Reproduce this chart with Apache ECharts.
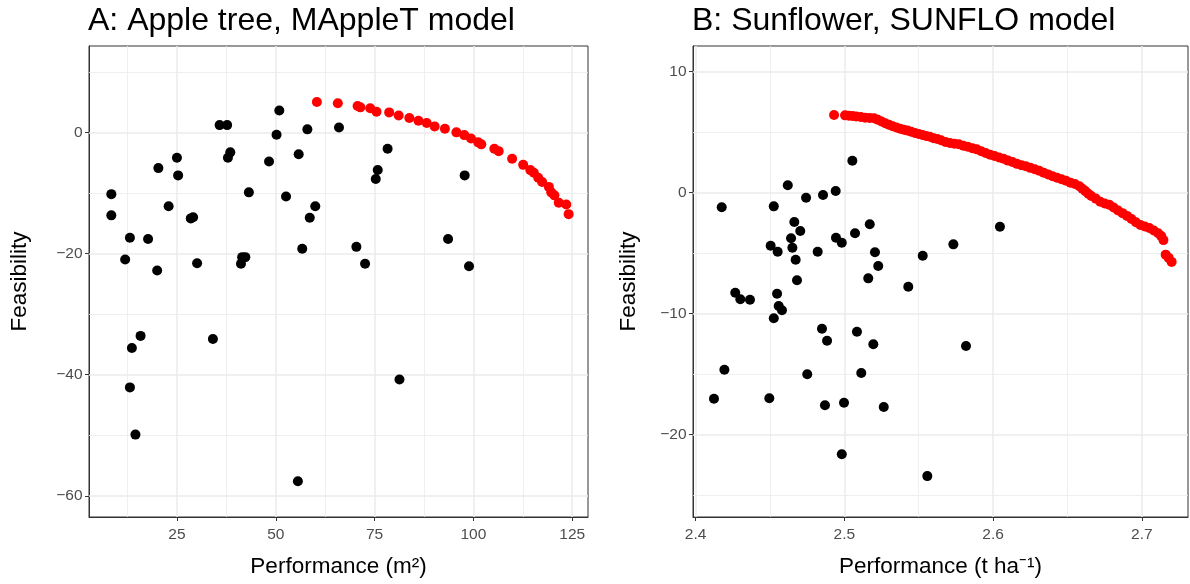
<!DOCTYPE html>
<html>
<head>
<meta charset="utf-8">
<script src="https://cdn.jsdelivr.net/npm/echarts@6/dist/echarts.min.js"></script>
<style>
html,body{margin:0;padding:0;background:#fff;}
#chart{width:1190px;height:584px;}
</style>
</head>
<body>
<div id="chart"></div>
<script>
// ---- Panel A: Apple tree, MAppleT model ----
const appleBlackX = [50.9,66.0,58.0,50.2,35.8,37.7,38.5,37.9,25.0,20.3,25.3,55.8,48.3,8.4,43.2,52.6,60.0,58.6,22.9,8.4,29.1,28.5,13.1,17.7,56.7,11.9,20.0,30.1,41.2,41.5,42.3,78.3,75.8,75.3,97.8,70.4,72.6,93.6,98.9,15.8,13.6,34.1,13.1,14.5,55.6,81.3];
const appleBlackY = [3.6,0.8,0.5,-0.4,1.2,1.2,-3.3,-4.2,-4.2,-5.9,-7.1,-3.6,-4.8,-10.2,-9.9,-10.6,-12.2,-14.1,-12.2,-13.7,-14.0,-14.2,-17.4,-17.6,-19.2,-21.0,-22.8,-21.6,-21.7,-20.6,-20.6,-2.7,-6.2,-7.7,-7.1,-18.9,-21.7,-17.6,-22.1,-33.6,-35.6,-34.1,-42.1,-49.9,-57.6,-40.8];
const appleRedX = [60.4,65.7,70.7,71.4,73.9,75.5,78.7,81.1,83.8,86.1,88.2,90.2,92.8,95.7,97.7,99.4,101.2,102.0,105.3,106.4,109.8,112.6,114.4,115.3,116.4,117.4,119.1,119.7,120.5,121.6,123.5,124.1];
const appleRedY = [5.0,4.8,4.35,4.13,3.97,3.4,3.3,2.8,2.36,1.92,1.54,0.99,0.6,0.0,-0.45,-1.0,-1.65,-1.98,-2.7,-3.1,-4.36,-5.36,-6.23,-6.68,-7.5,-8.2,-9.0,-9.9,-10.4,-11.6,-11.9,-13.5];
const appleXMajor = [25,50,75,100,125];
const appleXMinor = [12.5,37.5,62.5,87.5,112.5];
const appleYMajor = [0,-20,-40,-60];
const appleYMinor = [10,-10,-30,-50];

// ---- Panel B: Sunflower, SUNFLO model ----
const sunBlackX = [2.5054,2.4620,2.4176,2.4526,2.4743,2.4857,2.4942,2.4664,2.4704,2.4642,2.4651,2.4505,2.4552,2.4673,2.4821,2.4944,2.4983,2.5072,2.5171,2.5206,2.5228,2.5161,2.5430,2.5527,2.6046,2.5733,2.4682,2.4267,2.4301,2.4366,2.4548,2.4559,2.4581,2.4526,2.4850,2.4884,2.5085,2.5195,2.4194,2.4751,2.5114,2.4124,2.4496,2.4870,2.4998,2.5265,2.4983,2.5558,2.5818];
const sunBlackY = [2.61,0.58,-1.24,-1.16,-0.45,-0.22,0.11,-2.45,-3.2,-3.8,-4.58,-4.41,-4.91,-5.57,-4.91,-3.75,-4.17,-3.39,-2.64,-4.96,-6.09,-7.11,-7.8,-5.24,-2.84,-4.3,-7.27,-8.3,-8.84,-8.88,-8.38,-9.4,-9.75,-10.41,-11.27,-12.26,-11.52,-12.56,-14.66,-15.04,-14.93,-17.06,-17.02,-17.6,-17.39,-17.74,-21.65,-23.45,-12.7];
const sunRedX = [2.4931,2.5005,2.5030,2.5055,2.5080,2.5110,2.5140,2.5170,2.5200,2.5225,2.5250,2.5275,2.5300,2.5325,2.5350,2.5375,2.5400,2.5425,2.5450,2.5475,2.5500,2.5525,2.5550,2.5575,2.5600,2.5625,2.5650,2.5680,2.5710,2.5740,2.5770,2.5800,2.5830,2.5860,2.5890,2.5920,2.5950,2.5980,2.6010,2.6040,2.6070,2.6100,2.6130,2.6160,2.6190,2.6220,2.6250,2.6280,2.6310,2.6340,2.6370,2.6400,2.6430,2.6460,2.6490,2.6520,2.6550,2.6580,2.6600,2.6620,2.6640,2.6660,2.6690,2.6720,2.6750,2.6780,2.6810,2.6840,2.6870,2.6900,2.6930,2.6960,2.6990,2.7020,2.7050,2.7080,2.7110,2.7130,2.7145,2.7160,2.7180,2.7200];
const sunRedY = [6.39,6.36,6.33,6.30,6.27,6.22,6.16,6.15,6.12,6.00,5.85,5.70,5.58,5.46,5.36,5.25,5.17,5.10,5.01,4.90,4.82,4.73,4.66,4.59,4.47,4.40,4.30,4.15,4.08,4.02,3.97,3.85,3.76,3.65,3.55,3.40,3.25,3.10,3.00,2.88,2.78,2.62,2.50,2.35,2.23,2.15,2.02,1.90,1.78,1.62,1.48,1.32,1.20,1.08,0.95,0.80,0.68,0.50,0.30,0.10,-0.12,-0.30,-0.52,-0.78,-0.92,-1.02,-1.25,-1.50,-1.72,-1.95,-2.20,-2.48,-2.70,-2.82,-2.95,-3.15,-3.38,-3.62,-3.95,-5.15,-5.42,-5.75];
const sunXMajor = [2.4,2.5,2.6,2.7];
const sunXMinor = [2.45,2.55,2.65];
const sunYMajor = [10,0,-10,-20];
const sunYMinor = [5,-5,-15,-25];

const titles = ['A: Apple tree, MAppleT model','B: Sunflower, SUNFLO model'];
const xNames = ['Performance (m\u00B2)','Performance (t ha\u207B\u00B9)'];
const yName = 'Feasibility';

const FONT = 'Liberation Sans, Arial, Helvetica, sans-serif';
const zip = (xs, ys) => xs.map((x, i) => [x, ys[i]]);
const minus = v => String(v).replace('-', '\u2212');

function xAxisOf(idx, min, max, major, fmt) {
  return {
    type: 'value', gridIndex: idx, min: min, max: max,
    name: xNames[idx], nameLocation: 'middle', nameGap: 38,
    nameTextStyle: {fontFamily: FONT, fontSize: 22.5, color: '#000'},
    axisLine: {show: true, onZero: false, lineStyle: {color: '#333', width: 1}},
    axisTick: {show: true, inside: false, length: 4, lineStyle: {color: '#333', width: 1}, customValues: major},
    axisLabel: {show: true, margin: 10, fontFamily: FONT, fontSize: 15.5, color: '#4d4d4d', customValues: major, formatter: fmt, showMinLabel: true, showMaxLabel: true},
    splitLine: {show: false}, minorSplitLine: {show: false}
  };
}
function yAxisOf(idx, min, max, major, gap) {
  return {
    type: 'value', gridIndex: idx, min: min, max: max,
    name: yName, nameLocation: 'middle', nameGap: gap,
    nameTextStyle: {fontFamily: FONT, fontSize: 22.5, color: '#000'},
    axisLine: {show: true, onZero: false, lineStyle: {color: '#333', width: 1}},
    axisTick: {show: true, inside: false, length: 4, lineStyle: {color: '#333', width: 1}, customValues: major},
    axisLabel: {show: true, margin: 6.5, fontFamily: FONT, fontSize: 15.5, color: '#4d4d4d', customValues: major, formatter: v => minus(v)},
    splitLine: {show: false}, minorSplitLine: {show: false}
  };
}
function gridSeries(idx, xs, ys, width) {
  const data = xs.map(v => ({xAxis: v})).concat(ys.map(v => ({yAxis: v})));
  return {
    type: 'scatter', xAxisIndex: idx, yAxisIndex: idx, data: [], z: 1, silent: true,
    markLine: {
      z: 1, silent: true, symbol: ['none', 'none'], animation: false,
      label: {show: false},
      lineStyle: {color: '#ebebeb', width: width, type: 'solid'},
      emphasis: {disabled: true},
      data: data
    }
  };
}
function pts(idx, xs, ys, color) {
  return {
    type: 'scatter', xAxisIndex: idx, yAxisIndex: idx, data: zip(xs, ys), z: 10,
    symbol: 'circle', symbolSize: 10, itemStyle: {color: color, opacity: 1},
    silent: true, animation: false
  };
}

const chart = echarts.init(document.getElementById('chart'), null, {renderer: 'canvas'});
chart.setOption({
  animation: false,
  backgroundColor: '#fff',
  title: [
    {text: titles[0], left: 88, top: 5, padding: 0, textStyle: {fontFamily: FONT, fontSize: 32, fontWeight: 'normal', color: '#000'}},
    {text: titles[1], left: 692, top: 5, padding: 0, textStyle: {fontFamily: FONT, fontSize: 32, fontWeight: 'normal', color: '#000'}}
  ],
  grid: [
    {left: 89, top: 46, width: 499, height: 471, show: true, borderColor: '#333', borderWidth: 1, backgroundColor: '#fff'},
    {left: 693, top: 46, width: 495, height: 471, show: true, borderColor: '#333', borderWidth: 1, backgroundColor: '#fff'}
  ],
  xAxis: [
    xAxisOf(0, 2.75, 129.0, appleXMajor, v => String(v)),
    xAxisOf(1, 2.3983, 2.731, sunXMajor, v => Number(v).toFixed(1))
  ],
  yAxis: [
    yAxisOf(0, -63.5, 14.26, appleYMajor, 58),
    yAxisOf(1, -26.83, 12.09, sunYMajor, 53)
  ],
  series: [
    gridSeries(0, appleXMinor, appleYMinor, 0.8),
    gridSeries(0, appleXMajor, appleYMajor, 1.5),
    gridSeries(1, sunXMinor, sunYMinor, 0.8),
    gridSeries(1, sunXMajor, sunYMajor, 1.5),
    pts(0, appleBlackX, appleBlackY, '#000000'),
    pts(0, appleRedX, appleRedY, '#ff0000'),
    pts(1, sunBlackX, sunBlackY, '#000000'),
    pts(1, sunRedX, sunRedY, '#ff0000')
  ]
});
</script>
</body>
</html>
